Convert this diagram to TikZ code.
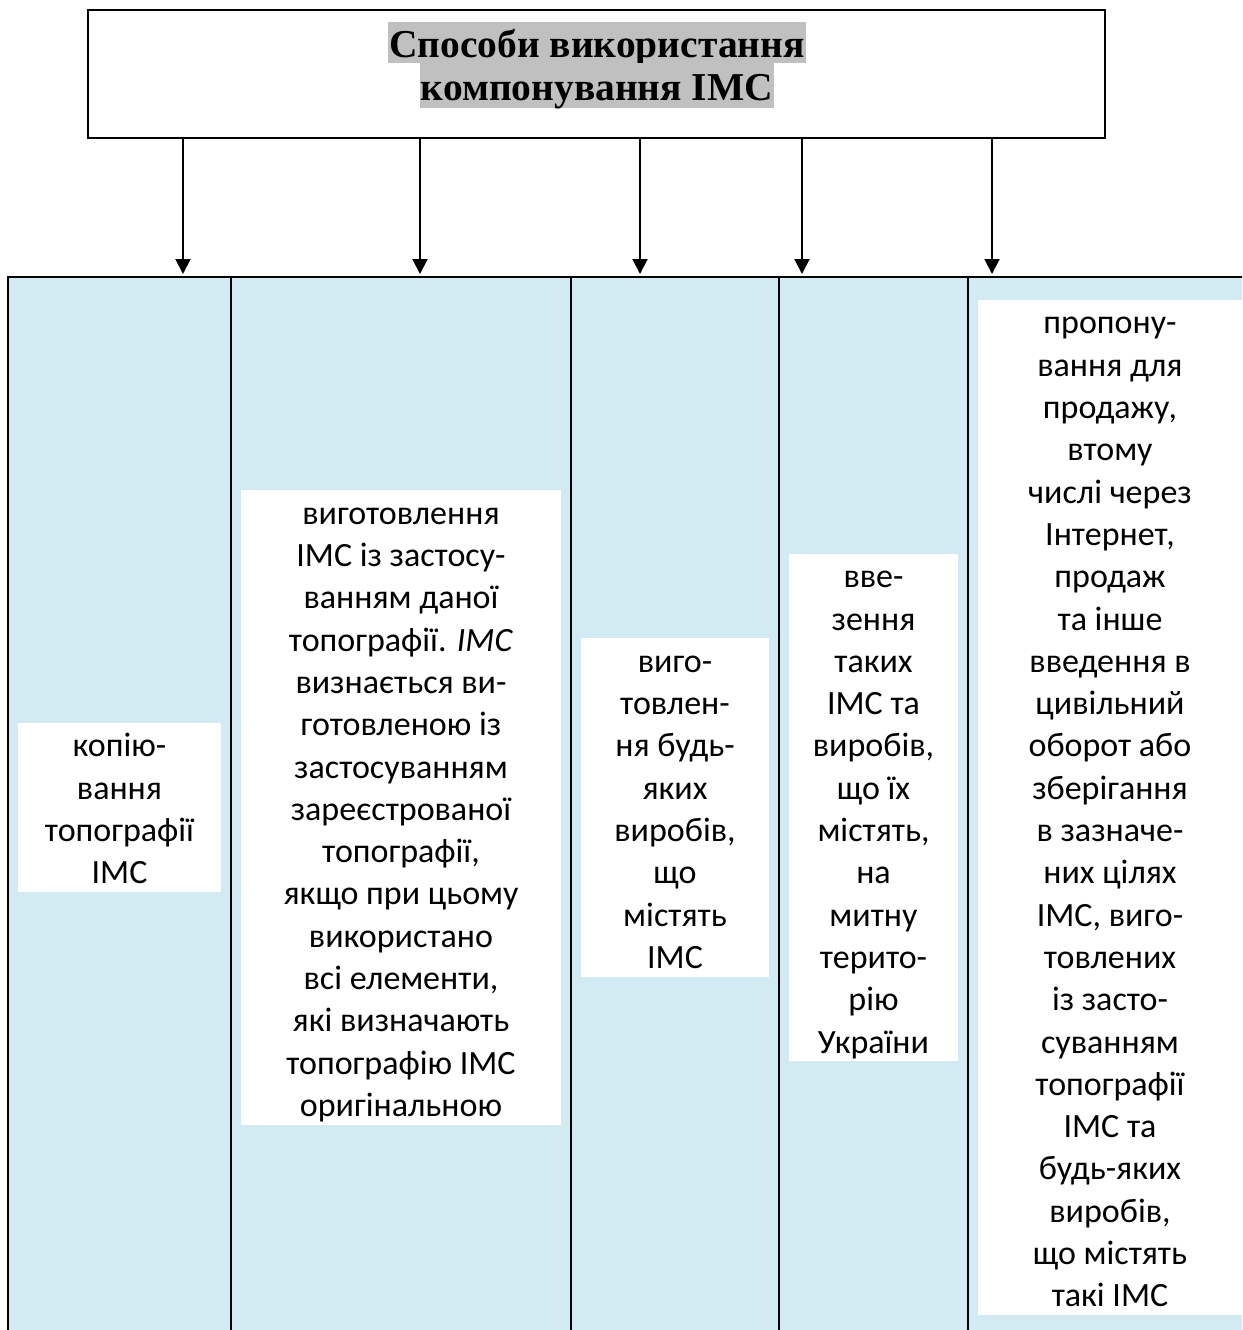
\documentclass[tikz,border=0pt]{standalone}
\usepackage{fontspec}
\setmainfont{Carlito}
\newfontfamily\headfont{Liberation Serif}
\usepackage{xcolor}
\usetikzlibrary{arrows.meta}
\definecolor{cellblue}{HTML}{D2EAF1}
\definecolor{markgray}{HTML}{C0C0C0}
\newcommand\firstrow{\rule{0pt}{34pt}}
\newcommand\lastrow{\rule[-8.3pt]{0pt}{8.3pt}}

\begin{document}
\begin{tikzpicture}[
    x=1pt,y=-1pt,
    header/.style={draw=black, line width=2pt, minimum width=1017pt, minimum height=128pt},
    hilite/.style={fill=markgray, inner xsep=1pt, inner ysep=0pt, anchor=base, font=\headfont\bfseries\fontsize{39.5}{43}\selectfont},
    cell/.style={draw=black, line width=2pt, fill=cellblue, minimum height=1061pt},
    txt/.style={fill=white, inner sep=0pt, align=center, font=\fontsize{34}{42.3}\selectfont},
    link/.style={draw=black, line width=2pt, shorten >=3pt, -{Triangle[width=15pt,length=15pt]}}
  ]
    \useasboundingbox (0,0) rectangle (1242,1330);
    \clip (0,0) rectangle (1242,1330);

    \node[header] (head) at (596.5,74) {};
    \node[hilite, text height=35pt, text depth=6pt] (line1) at (597,57) {Способи використання};
    \node[hilite, text height=37pt, text depth=8pt] (line2) at (597,100) {компонування ІМС};

    \node[cell, minimum width=223pt] (c1) at (119.5,807.5) {};
    \node[cell, minimum width=340pt] (c2) at (401,807.5) {};
    \node[cell, minimum width=208pt] (c3) at (675,807.5) {};
    \node[cell, minimum width=189pt] (c4) at (873.5,807.5) {};
    \node[cell, minimum width=284pt] (c5) at (1110,807.5) {};

    \coordinate (t1) at (183,277);
    \coordinate (t2) at (420,277);
    \coordinate (t3) at (640,277);
    \coordinate (t4) at (802,277);
    \coordinate (t5) at (992,277);

    \draw[link] (head.south -| t1) -- (t1);
    \draw[link] (head.south -| t2) -- (t2);
    \draw[link] (head.south -| t3) -- (t3);
    \draw[link] (head.south -| t4) -- (t4);
    \draw[link] (head.south -| t5) -- (t5);

    \node[txt, minimum width=203pt] (copy) at (c1) {\firstrow копію-\\вання\\топографії\\ІМС\lastrow};
    \node[txt, minimum width=320pt] (make) at (c2) {\firstrow виготовлення\\ІМС із застосу-\\ванням даної\\топографії. \textit{ІМС}\\визнається ви-\\готовленою із\\застосуванням\\зареєстрованої\\топографії,\\якщо при цьому\\використано\\всі елементи,\\які визначають\\топографію ІМС\\оригінальною\lastrow};
    \node[txt, minimum width=188pt] (goods) at (c3) {\firstrow виго-\\товлен-\\ня будь-\\яких\\виробів,\\що\\містять\\ІМС\lastrow};
    \node[txt, minimum width=169pt] (import) at (c4) {\firstrow вве-\\зення\\таких\\ІМС та\\виробів,\\що їх\\містять,\\на\\митну\\терито-\\рію\\України\lastrow};
    \node[txt, minimum width=264pt] (offer) at (c5) {\firstrow пропону-\\вання для\\продажу,\\втому\\числі через\\Інтернет,\\продаж\\та інше\\введення в\\цивільний\\оборот або\\зберігання\\в зазначе-\\них цілях\\ІМС, виго-\\товлених\\із засто-\\суванням\\топографії\\ІМС та\\будь-яких\\виробів,\\що містять\\такі ІМС\lastrow};
  \end{tikzpicture}
\end{document}
